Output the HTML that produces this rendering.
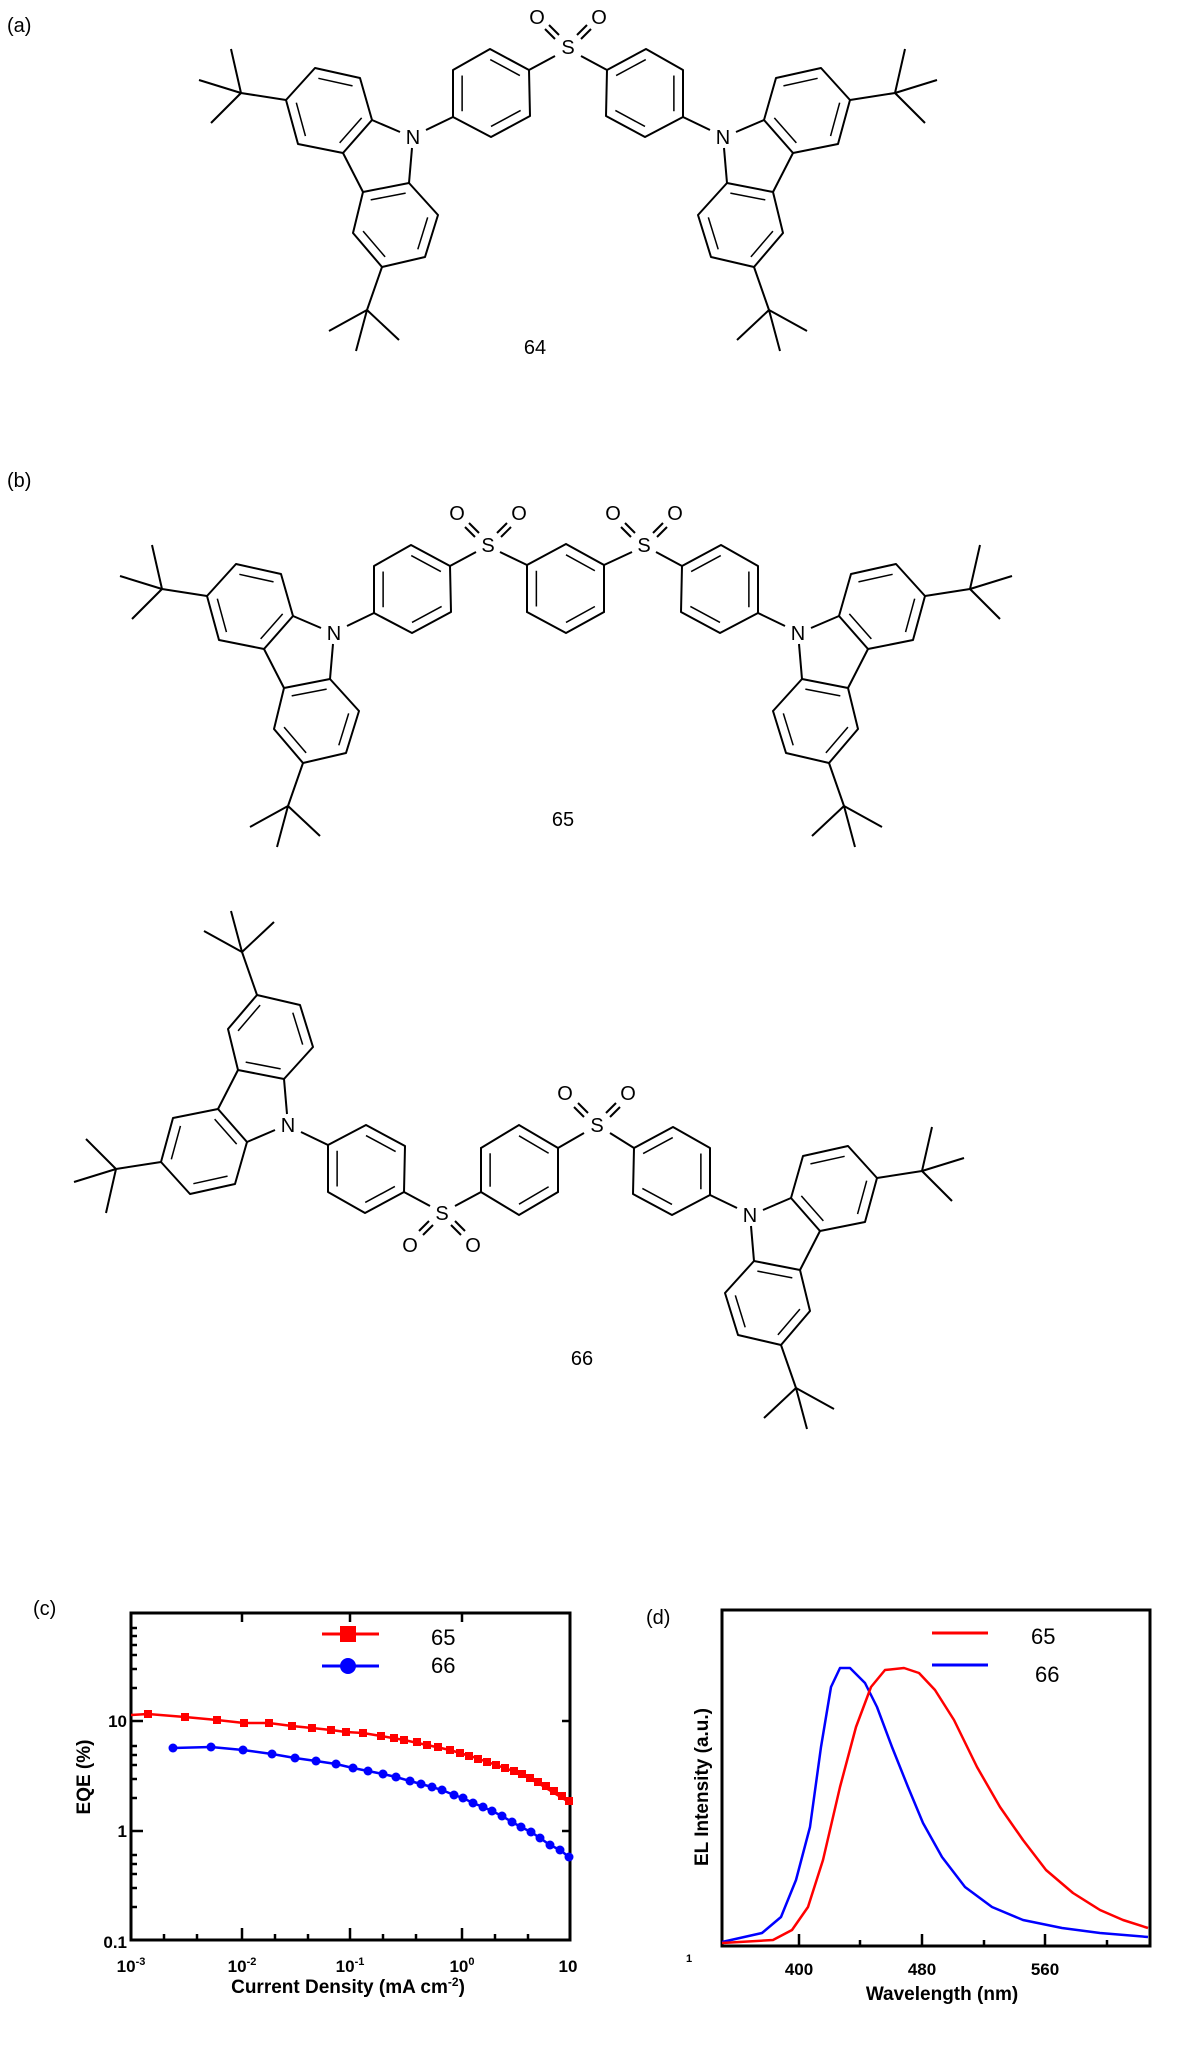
<!DOCTYPE html>
<html><head><meta charset="utf-8"><style>
html,body{margin:0;padding:0;background:#fff;}
svg{display:block;}
text{font-family:"Liberation Sans",sans-serif;}
</style></head><body>
<svg width="1200" height="2046" viewBox="0 0 1200 2046" xmlns="http://www.w3.org/2000/svg">
<defs>
<g id="u" stroke="#000" stroke-width="2" fill="none" stroke-linejoin="round">
<polygon points="-98,-69 -53,-59 -41,-17 -70,16 -115,7 -127,-37"/>
<polygon points="-4,46 -50,55 -60,96 -31,130 12,120 25,78"/>
<line x1="-13" y1="-5" x2="-41" y2="-17"/><line x1="-1" y1="11" x2="-4" y2="46"/><line x1="-70" y1="16" x2="-50" y2="55"/>
<line x1="-127" y1="-37" x2="-172" y2="-44"/><line x1="-172" y1="-44" x2="-182" y2="-88"/><line x1="-172" y1="-44" x2="-214" y2="-57"/><line x1="-172" y1="-44" x2="-202" y2="-14"/>
<line x1="-31" y1="130" x2="-46" y2="173"/><line x1="-46" y1="173" x2="-84" y2="194"/><line x1="-46" y1="173" x2="-57" y2="214"/><line x1="-46" y1="173" x2="-14" y2="203"/>
<line x1="13" y1="-7" x2="40" y2="-20"/>
<polygon points="40,-20 40,-67 77,-88 116,-67 117,-21 78,0"/>
<g transform="translate(-84,-26) scale(.76) translate(84,26)">
<line x1="-98" y1="-69" x2="-53" y2="-59"/><line x1="-41" y1="-17" x2="-70" y2="16"/><line x1="-115" y1="7" x2="-127" y2="-37"/></g>
<g transform="translate(-18,88) scale(.76) translate(18,-88)">
<line x1="-4" y1="46" x2="-50" y2="55"/><line x1="-60" y1="96" x2="-31" y2="130"/><line x1="12" y1="120" x2="25" y2="78"/></g>
<g transform="translate(78,-44) scale(.76) translate(-78,44)">
<line x1="40" y1="-20" x2="40" y2="-67"/><line x1="77" y1="-88" x2="116" y2="-67"/><line x1="117" y1="-21" x2="78" y2="0"/></g>
</g>
<g id="oo" stroke="#000" stroke-width="2">
<line x1="-9" y1="-12" x2="-19" y2="-22"/><line x1="-13" y1="-8" x2="-23" y2="-18"/>
<line x1="9" y1="-12" x2="19" y2="-22"/><line x1="13" y1="-8" x2="23" y2="-18"/>
</g>
</defs>
<g font-size="20">
<text x="7" y="32">(a)</text>
<text x="7" y="487">(b)</text>
<text x="33" y="1615">(c)</text>
<text x="646" y="1624">(d)</text>
</g>

<!-- 64 -->
<use href="#u" transform="translate(413,137)"/>
<use href="#u" transform="translate(723,137) scale(-1,1)"/>
<g stroke="#000" stroke-width="2"><line x1="529" y1="70" x2="555" y2="56"/><line x1="581" y1="56" x2="607" y2="70"/></g>
<use href="#oo" transform="translate(568,47)"/>
<g font-size="20" text-anchor="middle">
<text x="568" y="54">S</text><text x="537" y="24">O</text><text x="599" y="24">O</text>
<text x="413" y="144">N</text><text x="723" y="144">N</text>
<text x="535" y="354">64</text>
</g>

<!-- 65 -->
<use href="#u" transform="translate(334,633)"/>
<use href="#u" transform="translate(798,633) scale(-1,1)"/>
<g stroke="#000" stroke-width="2" fill="none">
<line x1="450" y1="566" x2="476" y2="552"/><line x1="500" y1="552" x2="527" y2="565"/>
<line x1="604" y1="565" x2="632" y2="552"/><line x1="656" y1="552" x2="682" y2="566"/>
<polygon points="527,565 527,612 566,633 604,612 604,565 566,544"/>
<g transform="translate(566,589) scale(.76) translate(-566,-589)">
<line x1="527" y1="565" x2="527" y2="612"/><line x1="566" y1="544" x2="604" y2="565"/><line x1="566" y1="633" x2="604" y2="612"/></g>
</g>
<use href="#oo" transform="translate(488,545)"/>
<use href="#oo" transform="translate(644,545)"/>
<g font-size="20" text-anchor="middle">
<text x="488" y="552">S</text><text x="457" y="520">O</text><text x="519" y="520">O</text>
<text x="644" y="552">S</text><text x="613" y="520">O</text><text x="675" y="520">O</text>
<text x="334" y="640">N</text><text x="798" y="640">N</text>
<text x="563" y="826">65</text>
</g>

<!-- 66 -->
<use href="#u" transform="translate(288,1125) scale(1,-1)"/>
<use href="#u" transform="translate(750,1215) scale(-1,1)"/>
<g stroke="#000" stroke-width="2" fill="none">
<line x1="404" y1="1192" x2="430" y2="1206"/><line x1="455" y1="1206" x2="481" y2="1192"/>
<line x1="558" y1="1148" x2="584" y2="1133"/><line x1="610" y1="1133" x2="634" y2="1148"/>
<polygon points="481,1148 519,1125 558,1148 558,1192 519,1215 481,1192"/>
<g transform="translate(519,1170) scale(.76) translate(-519,-1170)">
<line x1="481" y1="1148" x2="481" y2="1192"/><line x1="519" y1="1125" x2="558" y2="1148"/><line x1="519" y1="1215" x2="558" y2="1192"/></g>
</g>
<use href="#oo" transform="translate(442,1213) scale(1,-1)"/>
<use href="#oo" transform="translate(597,1125)"/>
<g font-size="20" text-anchor="middle">
<text x="442" y="1220">S</text><text x="410" y="1252">O</text><text x="473" y="1252">O</text>
<text x="597" y="1132">S</text><text x="565" y="1100">O</text><text x="628" y="1100">O</text>
<text x="288" y="1132">N</text><text x="750" y="1222">N</text>
<text x="582" y="1365">66</text>
</g>

<!-- (c) chart -->
<rect x="131" y="1613" width="439" height="327" fill="none" stroke="#000" stroke-width="3"/>
<g stroke="#000" stroke-width="2.5">
<line x1="131" y1="1721" x2="143" y2="1721"/><line x1="131" y1="1831" x2="143" y2="1831"/>
<line x1="131" y1="1688" x2="137" y2="1688"/><line x1="131" y1="1669" x2="137" y2="1669"/><line x1="131" y1="1655" x2="137" y2="1655"/><line x1="131" y1="1645" x2="137" y2="1645"/><line x1="131" y1="1636" x2="137" y2="1636"/><line x1="131" y1="1628" x2="137" y2="1628"/>
<line x1="131" y1="1798" x2="137" y2="1798"/><line x1="131" y1="1779" x2="137" y2="1779"/><line x1="131" y1="1765" x2="137" y2="1765"/><line x1="131" y1="1755" x2="137" y2="1755"/><line x1="131" y1="1746" x2="137" y2="1746"/>
<line x1="131" y1="1907" x2="137" y2="1907"/><line x1="131" y1="1888" x2="137" y2="1888"/><line x1="131" y1="1874" x2="137" y2="1874"/><line x1="131" y1="1864" x2="137" y2="1864"/><line x1="131" y1="1855" x2="137" y2="1855"/>
<line x1="242" y1="1940" x2="242" y2="1928"/><line x1="350" y1="1940" x2="350" y2="1928"/><line x1="462" y1="1940" x2="462" y2="1928"/>
<line x1="164" y1="1940" x2="164" y2="1934"/><line x1="197" y1="1940" x2="197" y2="1934"/><line x1="275" y1="1940" x2="275" y2="1934"/><line x1="308" y1="1940" x2="308" y2="1934"/><line x1="383" y1="1940" x2="383" y2="1934"/><line x1="416" y1="1940" x2="416" y2="1934"/><line x1="495" y1="1940" x2="495" y2="1934"/><line x1="528" y1="1940" x2="528" y2="1934"/>
<line x1="242" y1="1613" x2="242" y2="1622"/><line x1="350" y1="1613" x2="350" y2="1622"/><line x1="462" y1="1613" x2="462" y2="1622"/>
<line x1="570" y1="1721" x2="562" y2="1721"/><line x1="570" y1="1831" x2="562" y2="1831"/>
</g>
<polyline points="131,1715 148,1714 185,1717 217,1720 244,1723 269,1723 292,1726 312,1728 331,1730 346,1732 363,1733 381,1736 404,1740 427,1745 450,1750 473,1757 496,1765 519,1773 538,1783 554,1793 569,1802" fill="none" stroke="#f00" stroke-width="2.5"/>
<polyline points="173,1748 211,1747 243,1750 272,1754 295,1758 316,1761 336,1764 353,1768 368,1771 383,1774 396,1777 410,1781 421,1784 432,1787 442,1790 454,1795 463,1798 473,1803 483,1807 492,1811 502,1816 512,1822 521,1827 531,1832 540,1838 550,1845 560,1850 569,1857" fill="none" stroke="#00f" stroke-width="2.5"/>
<g fill="#f00">
<rect x="144" y="1710" width="8" height="8"/><rect x="181" y="1713" width="8" height="8"/><rect x="213" y="1716" width="8" height="8"/><rect x="240" y="1719" width="8" height="8"/><rect x="265" y="1719" width="8" height="8"/><rect x="288" y="1722" width="8" height="8"/><rect x="308" y="1724" width="8" height="8"/><rect x="327" y="1726" width="8" height="8"/><rect x="342" y="1728" width="8" height="8"/><rect x="359" y="1729" width="8" height="8"/><rect x="377" y="1732" width="8" height="8"/><rect x="390" y="1734" width="8" height="8"/><rect x="400" y="1736" width="8" height="8"/><rect x="413" y="1738" width="8" height="8"/><rect x="423" y="1741" width="8" height="8"/><rect x="434" y="1743" width="8" height="8"/><rect x="446" y="1746" width="8" height="8"/><rect x="456" y="1749" width="8" height="8"/><rect x="465" y="1752" width="8" height="8"/><rect x="474" y="1755" width="8" height="8"/><rect x="483" y="1758" width="8" height="8"/><rect x="492" y="1761" width="8" height="8"/><rect x="501" y="1764" width="8" height="8"/><rect x="510" y="1767" width="8" height="8"/><rect x="518" y="1770" width="8" height="8"/><rect x="526" y="1774" width="8" height="8"/><rect x="534" y="1778" width="8" height="8"/><rect x="542" y="1782" width="8" height="8"/><rect x="550" y="1787" width="8" height="8"/><rect x="558" y="1792" width="8" height="8"/><rect x="565" y="1797" width="8" height="8"/>
<rect x="340" y="1626" width="16" height="16"/>
</g>
<line x1="322" y1="1634" x2="379" y2="1634" stroke="#f00" stroke-width="3"/>
<g fill="#00f">
<circle cx="173" cy="1748" r="4.5"/><circle cx="211" cy="1747" r="4.5"/><circle cx="243" cy="1750" r="4.5"/><circle cx="272" cy="1754" r="4.5"/><circle cx="295" cy="1758" r="4.5"/><circle cx="316" cy="1761" r="4.5"/><circle cx="336" cy="1764" r="4.5"/><circle cx="353" cy="1768" r="4.5"/><circle cx="368" cy="1771" r="4.5"/><circle cx="383" cy="1774" r="4.5"/><circle cx="396" cy="1777" r="4.5"/><circle cx="410" cy="1781" r="4.5"/><circle cx="421" cy="1784" r="4.5"/><circle cx="432" cy="1787" r="4.5"/><circle cx="442" cy="1790" r="4.5"/><circle cx="454" cy="1795" r="4.5"/><circle cx="463" cy="1798" r="4.5"/><circle cx="473" cy="1803" r="4.5"/><circle cx="483" cy="1807" r="4.5"/><circle cx="492" cy="1811" r="4.5"/><circle cx="502" cy="1816" r="4.5"/><circle cx="512" cy="1822" r="4.5"/><circle cx="521" cy="1827" r="4.5"/><circle cx="531" cy="1832" r="4.5"/><circle cx="540" cy="1838" r="4.5"/><circle cx="550" cy="1845" r="4.5"/><circle cx="560" cy="1850" r="4.5"/><circle cx="569" cy="1857" r="4.5"/>
<circle cx="348" cy="1666" r="8"/>
</g>
<line x1="322" y1="1666" x2="379" y2="1666" stroke="#00f" stroke-width="3"/>
<g font-family="Liberation Serif" font-size="22"><text x="431" y="1645">65</text><text x="431" y="1673">66</text></g>
<g font-size="17" font-weight="bold" text-anchor="end">
<text x="127" y="1727">10</text><text x="127" y="1837">1</text><text x="127" y="1948">0.1</text>
</g>
<g font-size="17" font-weight="bold" text-anchor="middle">
<text x="131" y="1972">10<tspan font-size="11" dy="-7">-3</tspan></text>
<text x="242" y="1972">10<tspan font-size="11" dy="-7">-2</tspan></text>
<text x="350" y="1972">10<tspan font-size="11" dy="-7">-1</tspan></text>
<text x="462" y="1972">10<tspan font-size="11" dy="-7">0</tspan></text>
<text x="568" y="1972">10</text>
<text x="348" y="1993" font-size="19">Current Density (mA cm<tspan font-size="12" dy="-7">-2</tspan><tspan dy="7">)</tspan></text>
<text transform="translate(90 1777) rotate(-90)" font-size="19">EQE (%)</text>
</g>

<!-- (d) chart -->
<rect x="722" y="1610" width="428" height="336" fill="none" stroke="#000" stroke-width="3"/>
<g stroke="#000" stroke-width="2.5">
<line x1="799" y1="1946" x2="799" y2="1934"/><line x1="922" y1="1946" x2="922" y2="1934"/><line x1="1045" y1="1946" x2="1045" y2="1934"/>
<line x1="860" y1="1946" x2="860" y2="1940"/><line x1="984" y1="1946" x2="984" y2="1940"/><line x1="1107" y1="1946" x2="1107" y2="1940"/>
</g>
<polyline points="722,1942 762,1933 781,1917 796,1880 810,1827 821,1747 831,1687 840,1668 850,1668 865,1683 877,1707 892,1747 908,1787 923,1823 942,1857 965,1887 992,1907 1023,1920 1062,1928 1100,1933 1148,1937" fill="none" stroke="#00f" stroke-width="2.5" stroke-linejoin="round"/>
<polyline points="722,1943 773,1940 792,1930 808,1907 823,1860 840,1787 856,1727 871,1687 885,1670 904,1668 919,1673 935,1690 954,1720 977,1767 1000,1807 1023,1840 1046,1870 1073,1893 1100,1910 1123,1920 1148,1928" fill="none" stroke="#f00" stroke-width="2.5" stroke-linejoin="round"/>
<line x1="932" y1="1633" x2="988" y2="1633" stroke="#f00" stroke-width="3"/>
<line x1="932" y1="1665" x2="988" y2="1665" stroke="#00f" stroke-width="3"/>
<g font-family="Liberation Serif" font-size="22"><text x="1031" y="1644">65</text><text x="1035" y="1682">66</text></g>
<g font-size="17" font-weight="bold" text-anchor="middle">
<text x="799" y="1975">400</text><text x="922" y="1975">480</text><text x="1045" y="1975">560</text>
<text x="942" y="2000" font-size="19">Wavelength (nm)</text>
<text x="689" y="1962" font-size="11">1</text>
<text transform="translate(708 1787) rotate(-90)" font-size="19">EL Intensity (a.u.)</text>
</g>
</svg>
</body></html>
